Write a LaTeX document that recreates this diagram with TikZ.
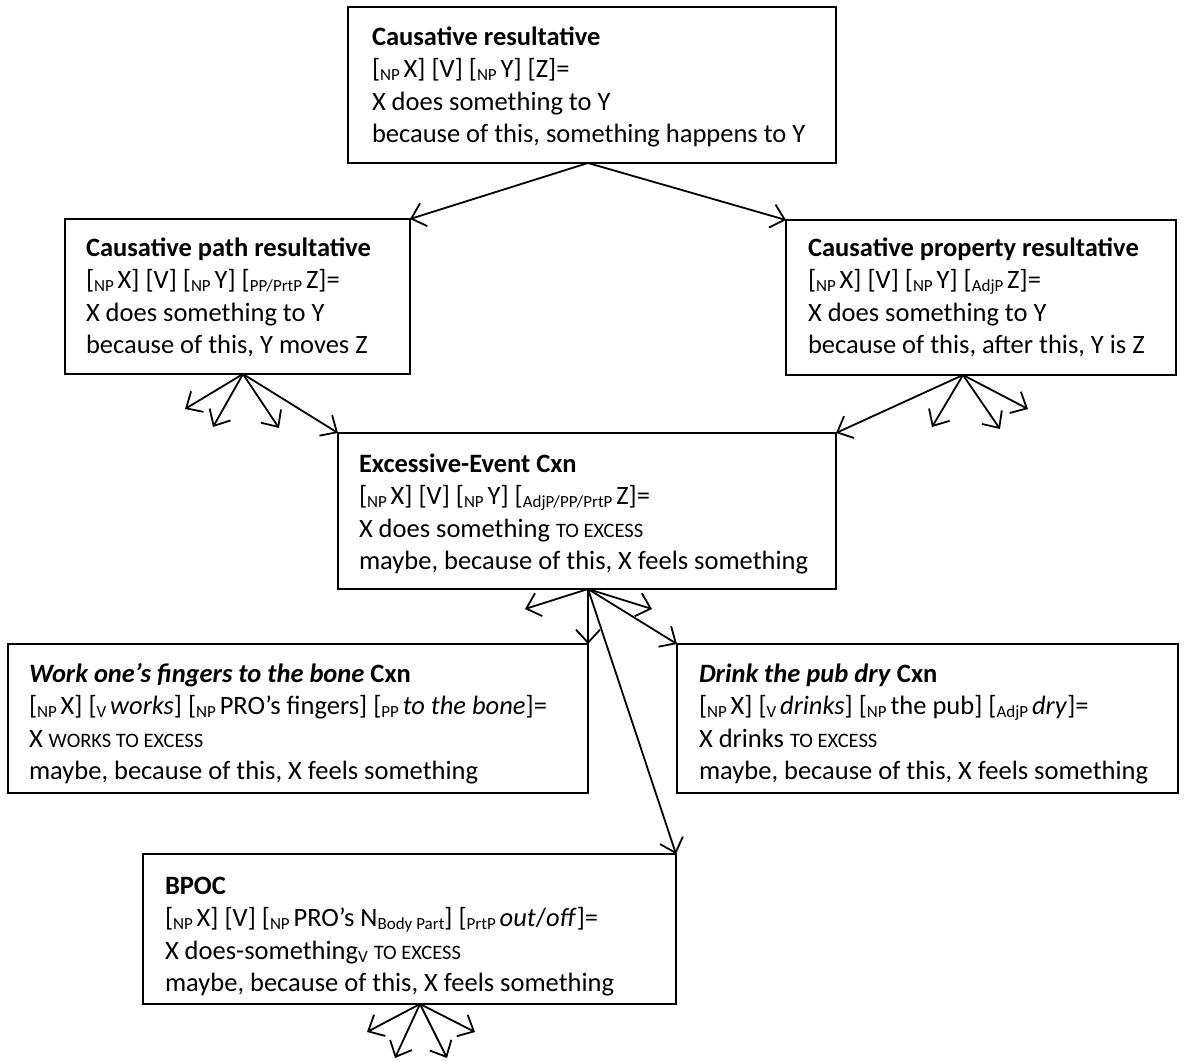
\documentclass[tikz,border=0pt]{standalone}
\usepackage{fontspec}
\setmainfont{Carlito}
\usetikzlibrary{arrows.meta}

% lowered small label, as in [NP X]
\newcommand\subtxt[1]{\raisebox{-0.13em}{\fontsize{17}{17}\selectfont #1}}
% small capitals, typed in upper case
\newcommand\scx[1]{{\fontsize{20.5}{20.5}\selectfont #1}}
% line break that does not swallow a following bracket
\newcommand\nl{\\{}}

\tikzset{
  cxbox/.style={draw, line width=1.8pt, inner sep=0pt, outer sep=0pt, anchor=north west},
  cxtext/.style={anchor=base west, inner sep=0pt, outer sep=0pt,
                 font=\fontsize{26.5}{32.5}\selectfont},
  link/.style={line width=1.8pt, -{Straight Barb[length=13pt, width=24pt, line width=1.8pt]}}
}

\newcommand\lines[1]{\parbox[t]{600pt}{\raggedright #1}}

\begin{document}
\begin{tikzpicture}[x=1pt, y=-1pt]
\useasboundingbox (0,0) rectangle (1189,1061);
\fill[white] (0,0) rectangle (1189,1061);

% boxes
\node[cxbox, minimum width=488pt, minimum height=156pt] (b1) at (348,7) {};
\node[cxbox, minimum width=345pt, minimum height=155pt] (b2) at (65,219) {};
\node[cxbox, minimum width=390pt, minimum height=155pt] (b3) at (786,220) {};
\node[cxbox, minimum width=498pt, minimum height=156pt] (b4) at (338,433) {};
\node[cxbox, minimum width=580pt, minimum height=149pt] (b5) at (8,644) {};
\node[cxbox, minimum width=501pt, minimum height=149pt] (b6) at (677,644) {};
\node[cxbox, minimum width=533pt, minimum height=150pt] (b7) at (143,854) {};

% texts
\node[cxtext] (t1) at (372,45) {\lines{\textbf{Causative resultative}\nl
[\subtxt{NP\ }X] [V] [\subtxt{NP\ }Y] [Z]=\nl
X does something to Y\nl
because of this, something happens to Y}};

\node[cxtext] (t2) at (86,256) {\lines{\textbf{Causative path resultative}\nl
[\subtxt{NP\ }X] [V] [\subtxt{NP\ }Y] [\subtxt{PP/PrtP\ }Z]=\nl
X does something to Y\nl
because of this, Y moves Z}};

\node[cxtext] (t3) at (808,256) {\lines{\textbf{Causative property resultative}\nl
[\subtxt{NP\ }X] [V] [\subtxt{NP\ }Y] [\subtxt{AdjP\ }Z]=\nl
X does something to Y\nl
because of this, after this, Y is Z}};

\node[cxtext] (t4) at (359,472) {\lines{\textbf{Excessive-Event Cxn}\nl
[\subtxt{NP\ }X] [V] [\subtxt{NP\ }Y] [\subtxt{AdjP/PP/PrtP\ }Z]=\nl
X does something \scx{TO EXCESS}\nl
maybe, because of this, X feels something}};

\node[cxtext] (t5) at (29,682) {\lines{\textbf{\textit{Work one’s fingers to the bone} Cxn}\nl
[\subtxt{NP\ }X] [\subtxt{V\ }\textit{works}] [\subtxt{NP\ }PRO’s fingers] [\subtxt{PP\ }\textit{to the bone}]=\nl
X \scx{WORKS TO EXCESS}\nl
maybe, because of this, X feels something}};

\node[cxtext] (t6) at (699,682) {\lines{\textbf{\textit{Drink the pub dry} Cxn}\nl
[\subtxt{NP\ }X] [\subtxt{V\ }\textit{drinks}] [\subtxt{NP\ }the pub] [\subtxt{AdjP\ }\textit{dry}]=\nl
X drinks \scx{TO EXCESS}\nl
maybe, because of this, X feels something}};

\node[cxtext] (t7) at (165,894) {\lines{\textbf{BPOC}\nl
[\subtxt{NP\ }X] [V] [\subtxt{NP\ }PRO’s N\subtxt{Body Part}] [\subtxt{PrtP\ }\textit{out}/\textit{off}]=\nl
X does-something\subtxt{V} \scx{TO EXCESS}\nl
maybe, because of this, X feels something}};

% arrow origins on the lower edges
\coordinate (o1) at (588,163);
\coordinate (o2) at (243,374);
\coordinate (o3) at (963,375);
\coordinate (o4) at (588,589);
\coordinate (o7) at (420,1004);

% free arrow ends
\coordinate (e2a) at (185,409);
\coordinate (e2b) at (213,427);
\coordinate (e2c) at (279,428);
\coordinate (e3a) at (932,427);
\coordinate (e3b) at (1000,429);
\coordinate (e3c) at (1028,409);
\coordinate (e4a) at (525,609);
\coordinate (e4b) at (652,609);
\coordinate (e7a) at (367,1032);
\coordinate (e7b) at (395,1058);
\coordinate (e7c) at (447,1058);
\coordinate (e7d) at (475,1032);

% connectors
\draw[link] (o1) -- (b2.north east);
\draw[link] (o1) -- (b3.north west);

\draw[link] (o2) -- (e2a);
\draw[link] (o2) -- (e2b);
\draw[link] (o2) -- (e2c);
\draw[link] (o2) -- (b4.north west);

\draw[link] (o3) -- (b4.north east);
\draw[link] (o3) -- (e3a);
\draw[link] (o3) -- (e3b);
\draw[link] (o3) -- (e3c);

\draw[link] (o4) -- (e4a);
\draw[link] (o4) -- (b5.north east);
\draw[link] (o4) -- (e4b);
\draw[link] (o4) -- (b6.north west);
\draw[link] (o4) -- (b7.north east);

\draw[link] (o7) -- (e7a);
\draw[link] (o7) -- (e7b);
\draw[link] (o7) -- (e7c);
\draw[link] (o7) -- (e7d);
\end{tikzpicture}
\end{document}
